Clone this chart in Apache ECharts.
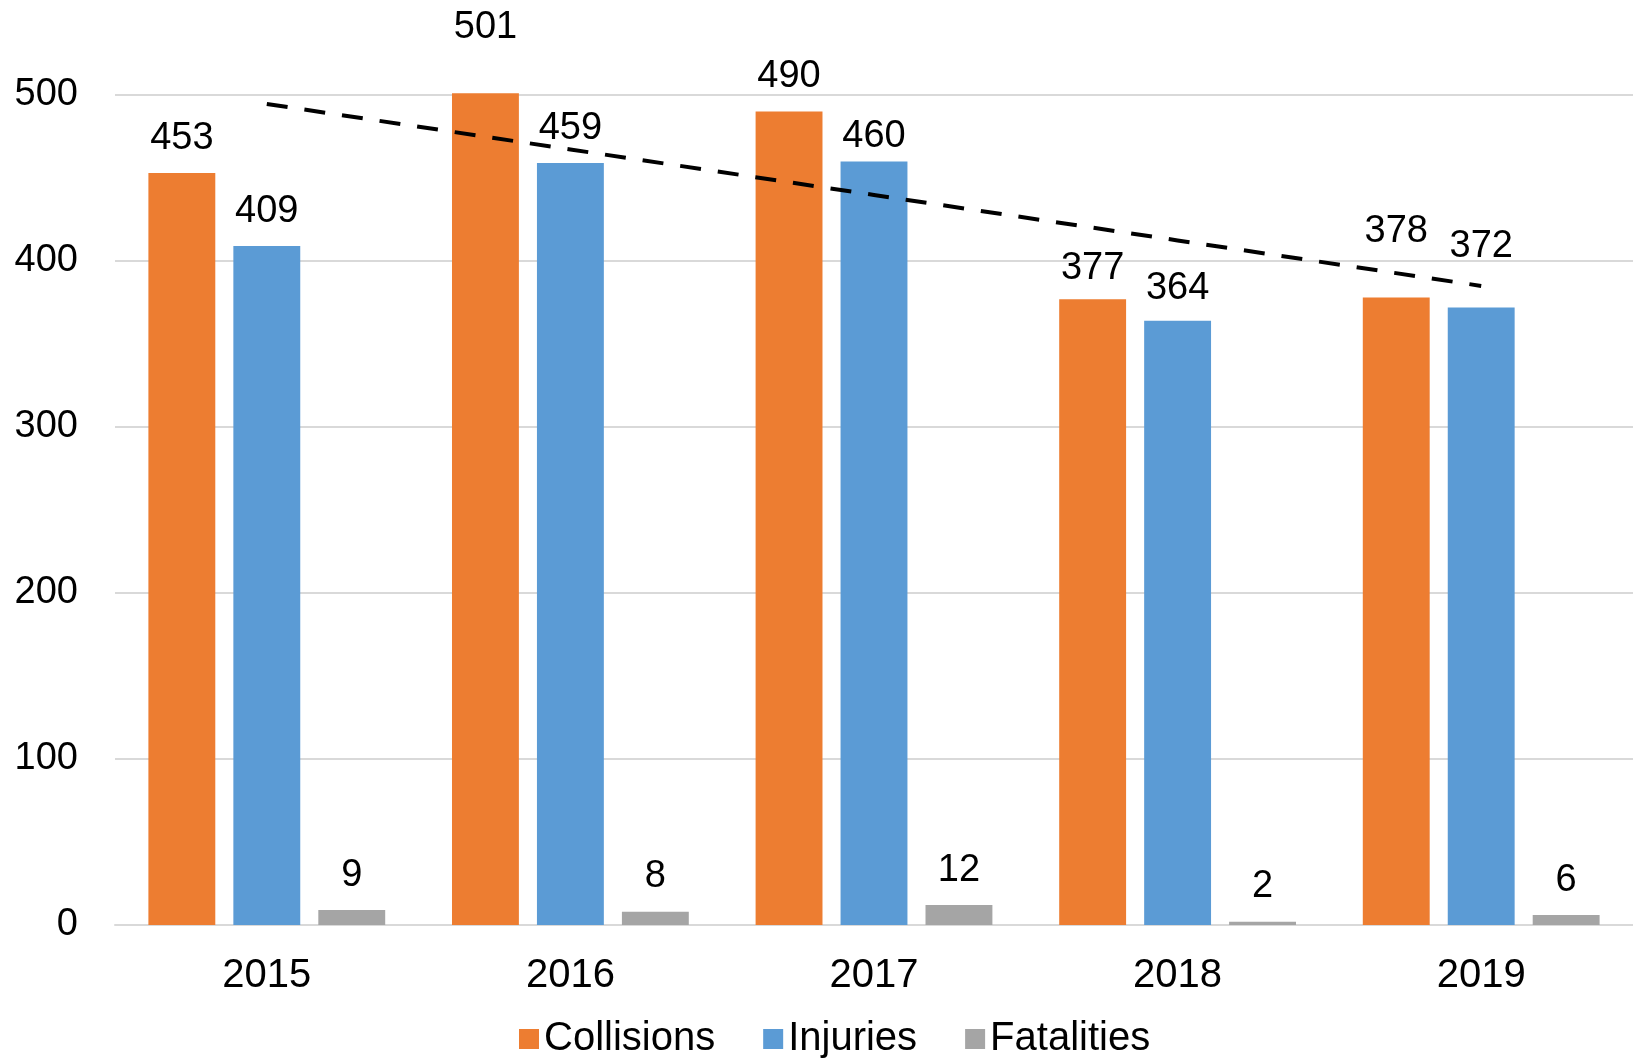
<!DOCTYPE html>
<html>
<head>
<meta charset="utf-8">
<script src="https://cdn.jsdelivr.net/npm/echarts@6/dist/echarts.min.js"></script>
<style>
  html, body { margin: 0; padding: 0; background: #fff; }
  #chart { width: 1633px; height: 1058px; }
</style>
</head>
<body>
<div id="chart"></div>
<script>
// ---- data ----
const categories = ['2015', '2016', '2017', '2018', '2019'];
const collisions = [453, 501, 490, 377, 378];
const injuries   = [409, 459, 460, 364, 372];
const fatalities = [9, 8, 12, 2, 6];
// linear trendline of collisions
const trend = [494.6, 467.2, 439.8, 412.4, 385.0];
const yTicks = [0, 100, 200, 300, 400, 500];

// ---- style: extra label lift per item (px) ----
const baseDist = 16;
const liftCollisions = [0, 31, 0, -4, 31];
const liftInjuries   = [0, 0, -10, -3, 26];
const liftFatalities = [0, 0, 0, 0, 0];

const FONT = '"Liberation Sans", Arial, sans-serif';

function withLabels(values, lifts) {
  return values.map((v, i) => ({
    value: v,
    label: { distance: baseDist + lifts[i] }
  }));
}

const labelStyle = {
  show: true,
  position: 'top',
  fontSize: 38,
  fontFamily: FONT,
  color: '#000'
};

const chart = echarts.init(document.getElementById('chart'), null, { renderer: 'canvas' });
chart.setOption({
  animation: false,
  backgroundColor: '#fff',
  grid: { left: 115, right: 0, top: 95, bottom: 133, containLabel: false },
  legend: {
    data: ['Collisions', 'Injuries', 'Fatalities'],
    left: 514,
    top: 1014,
    itemWidth: 20,
    itemHeight: 20,
    itemGap: 48,
    icon: 'rect',
    textStyle: { fontSize: 40, fontFamily: FONT, color: '#000' }
  },
  xAxis: {
    type: 'category',
    data: categories,
    axisTick: { show: false },
    axisLine: { show: true, lineStyle: { color: '#d9d9d9', width: 2 } },
    axisLabel: { fontSize: 40, fontFamily: FONT, color: '#000', margin: 31 }
  },
  yAxis: {
    type: 'value',
    min: yTicks[0],
    max: yTicks[yTicks.length - 1],
    interval: 100,
    axisLine: { show: false },
    axisTick: { show: false },
    splitLine: { show: true, lineStyle: { color: '#d9d9d9', width: 2 } },
    axisLabel: { fontSize: 38, fontFamily: FONT, color: '#000', margin: 37, padding: [8, 0, 0, 0] }
  },
  series: [
    {
      name: 'Collisions', type: 'bar', clip: false,
      data: withLabels(collisions, liftCollisions),
      itemStyle: { color: '#ED7D31' },
      barGap: '27%', barCategoryGap: '22%',
      label: labelStyle
    },
    {
      name: 'Injuries', type: 'bar', clip: false,
      data: withLabels(injuries, liftInjuries),
      itemStyle: { color: '#5B9BD5' },
      barGap: '27%', barCategoryGap: '22%',
      label: labelStyle
    },
    {
      name: 'Fatalities', type: 'bar', clip: false,
      data: withLabels(fatalities, liftFatalities),
      itemStyle: { color: '#A5A5A5' },
      barGap: '27%', barCategoryGap: '22%',
      label: labelStyle
    },
    {
      name: 'Trend', type: 'line',
      data: trend,
      symbol: 'none',
      silent: true,
      z: 5,
      lineStyle: { color: '#000', width: 4, type: [21, 17] }
    }
  ]
});
</script>
</body>
</html>
